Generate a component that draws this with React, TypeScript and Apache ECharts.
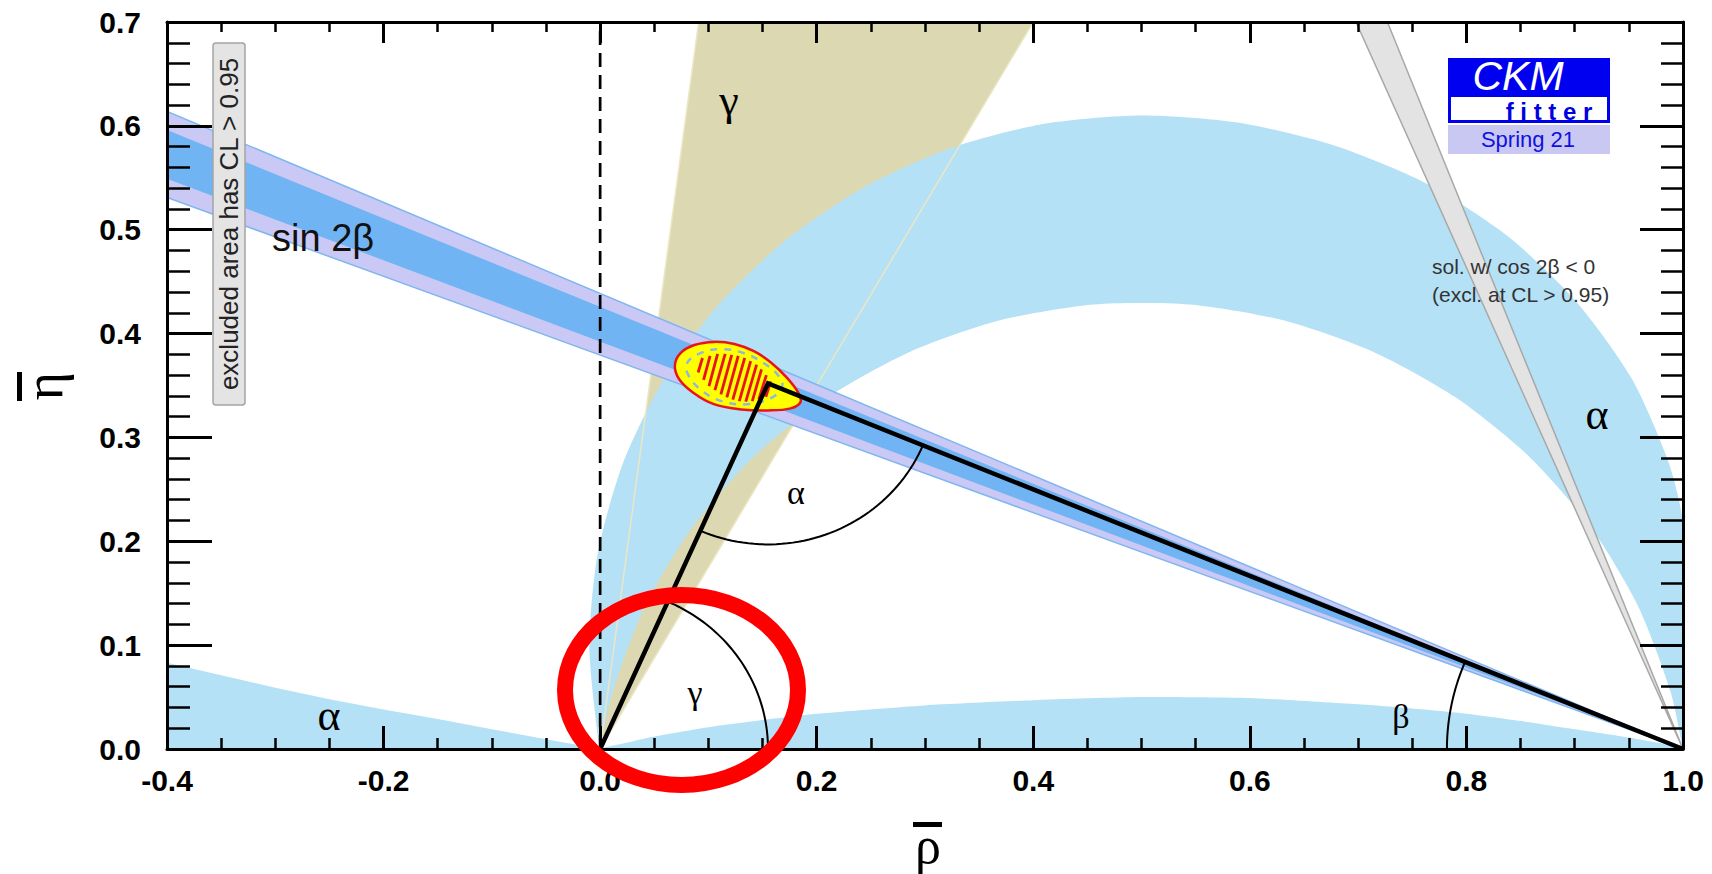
import React, { useEffect, useRef } from "react";
import * as echarts from "echarts";

// ---------------- data, in (rho-bar, eta-bar) ----------------
const triangle: number[][] = [[0, 0], [0.155, 0.352], [1, 0]];
const zeroLine: number[][] = [[0, 0], [0, 0.7]];

const gammaWedge: number[][] = [[0, 0], [0.091, 0.7], [0.4, 0.7]];
const gammaEdgeLeft: number[][] = [[0, 0], [0.091, 0.7]];
const gammaEdgeRight: number[][] = [[0, 0], [0.4, 0.7]];

const alphaOuterArc: number[][] = [
  [0, 0], [-0.0022, 0.0115], [-0.01, 0.1], [-0.0022, 0.1885], [0.0208, 0.2744], [0.0583, 0.355],
  [0.1093, 0.4278], [0.1722, 0.4907], [0.245, 0.5417], [0.3256, 0.5792], [0.4115, 0.6022],
  [0.5, 0.61], [0.59, 0.603], [0.678, 0.581], [0.762, 0.545], [0.838, 0.494], [0.902, 0.43],
  [0.953, 0.356], [0.987, 0.275], [1.0, 0.215], [1.0, 0],
];
const alphaInnerArc: number[][] = [
  [1, 0], [0.9885, 0.0552], [0.9583, 0.138], [0.9143, 0.2144], [0.8576, 0.2819], [0.79, 0.3386],
  [0.7137, 0.3826], [0.6309, 0.4128], [0.5441, 0.4281], [0.4559, 0.4281], [0.3691, 0.4128],
  [0.2863, 0.3826], [0.21, 0.3386], [0.1424, 0.2819], [0.0857, 0.2144], [0.0417, 0.138],
  [0.0115, 0.0552], [0, 0],
];
const alphaLowLeft: number[][] = [
  [-0.4, 0], [-0.4, 0.083], [-0.35, 0.071], [-0.3, 0.059], [-0.25, 0.048], [-0.2, 0.038],
  [-0.15, 0.029], [-0.1, 0.019], [-0.05, 0.0095], [0, 0],
];
const alphaLowMid: number[][] = [
  [0, 0], [0.02, 0.005], [0.05, 0.012], [0.1, 0.021], [0.15, 0.028], [0.2, 0.034], [0.3, 0.042],
  [0.4, 0.047], [0.5, 0.05], [0.6, 0.049], [0.7, 0.043], [0.75, 0.039], [0.8, 0.034],
  [0.85, 0.027], [0.9, 0.019], [0.95, 0.011], [1, 0],
];

const sin2bOuter: number[][] = [[-0.4, 0.614], [1, 0], [-0.4, 0.531]];
const sin2bInner: number[][] = [[-0.4, 0.596], [1, 0], [-0.4, 0.549]];
const cos2bNeg: number[][] = [[1, 0], [0.698, 0.7], [0.727, 0.7]];

const ellipse95: number[][] = [
  [0.069, 0.369], [0.074, 0.381], [0.087, 0.389], [0.105, 0.392], [0.124, 0.39], [0.142, 0.383],
  [0.158, 0.372], [0.172, 0.358], [0.183, 0.343], [0.185, 0.334], [0.176, 0.328], [0.155, 0.326],
  [0.13, 0.327], [0.105, 0.332], [0.086, 0.343], [0.073, 0.356],
];
const ellipse68: number[][] = [
  [0.08, 0.371], [0.092, 0.381], [0.112, 0.385], [0.133, 0.381], [0.152, 0.371], [0.165, 0.359],
  [0.168, 0.349], [0.158, 0.338], [0.136, 0.332], [0.112, 0.335], [0.094, 0.345], [0.082, 0.359],
];
// hatch strokes: [rho_bottom, eta_bottom, rho_top, eta_top]
const hatch68: number[][] = [
  [0.0905, 0.3625, 0.0945, 0.3765], [0.0955, 0.3555, 0.1015, 0.3785], [0.1005, 0.3495, 0.1085, 0.3805],
  [0.106, 0.3455, 0.1155, 0.3805], [0.1115, 0.3415, 0.1215, 0.3795], [0.117, 0.3385, 0.1275, 0.3785],
  [0.1225, 0.3365, 0.1335, 0.3765], [0.1285, 0.3350, 0.1390, 0.3735], [0.1345, 0.3345, 0.1445, 0.3700],
  [0.1405, 0.3350, 0.1490, 0.3655], [0.1465, 0.3365, 0.1535, 0.3600], [0.1530, 0.3390, 0.1575, 0.3540],
];
// angle markers: [vertex rho, vertex eta, radius, from deg, to deg]
const angleArcs: number[][] = [
  [0, 0, 0.155, 0, 66.24],
  [0.155, 0.352, 0.155, 246.24, 337.39],
  [1, 0, 0.218, 157.39, 180],
];

const LIGHT_BLUE = "#b4e1f5";

function polygonSeries(pts: number[][], style: any, z: number, smooth = 0) {
  return {
    type: "custom",
    coordinateSystem: "cartesian2d",
    clip: true,
    silent: true,
    z,
    data: [pts[0]],
    renderItem: (_p: any, api: any) => ({
      type: "polygon",
      shape: { points: pts.map((p) => api.coord(p)), smooth },
      style,
    }),
  };
}

function polylineSeries(lines: number[][][], style: any, z: number) {
  return {
    type: "custom",
    coordinateSystem: "cartesian2d",
    clip: true,
    silent: true,
    z,
    data: [lines[0][0]],
    renderItem: (_p: any, api: any) => ({
      type: "group",
      children: lines.map((l) => ({
        type: "polyline",
        shape: { points: l.map((p) => api.coord(p)) },
        style: { fill: "none", ...style },
      })),
    }),
  };
}

const axisCommon = {
  type: "value",
  z: 50,
  axisLine: { show: true, onZero: false, lineStyle: { color: "#000", width: 3 } },
  splitLine: { show: false },
};

export default function App() {
  const ref = useRef<HTMLDivElement>(null);
  useEffect(() => {
    if (!ref.current) return;
    const chart = echarts.init(ref.current, null, { renderer: "svg" });
    const fmt = (v: number) => v.toFixed(1);
    const tickLabel = {
      formatter: fmt,
      fontSize: 30,
      fontWeight: "bold",
      fontFamily: "Liberation Sans",
      color: "#000",
    };
    const serif = "Liberation Serif";
    const text = (x: number, y: number, t: string, size: number, extra: any = {}) => ({
      type: "text",
      x,
      y,
      z: 100,
      silent: true,
      style: {
        text: t,
        fontSize: size,
        fontFamily: serif,
        fill: "#000",
        align: "center",
        verticalAlign: "middle",
        ...extra,
      },
    });

    chart.setOption({
      animation: false,
      backgroundColor: "#fff",
      grid: { left: 167, top: 22, width: 1516, height: 727, containLabel: false },
      xAxis: [
        {
          ...axisCommon,
          position: "bottom",
          min: -0.4,
          max: 1.0,
          interval: 0.2,
          axisTick: { inside: true, length: 23, lineStyle: { color: "#000", width: 3 } },
          minorTick: { show: true, splitNumber: 4, length: 11, lineStyle: { color: "#000", width: 2.5 } },
          axisLabel: { ...tickLabel, margin: 16 },
        },
        {
          ...axisCommon,
          position: "top",
          min: -0.4,
          max: 1.0,
          interval: 0.2,
          axisTick: { inside: true, length: 21, lineStyle: { color: "#000", width: 3 } },
          minorTick: { show: true, splitNumber: 4, length: 10, lineStyle: { color: "#000", width: 2.5 } },
          axisLabel: { show: false },
        },
      ],
      yAxis: [
        {
          ...axisCommon,
          position: "left",
          min: 0,
          max: 0.7,
          interval: 0.1,
          axisTick: { inside: true, length: 45, lineStyle: { color: "#000", width: 3 } },
          minorTick: { show: true, splitNumber: 5, length: 23, lineStyle: { color: "#000", width: 2.5 } },
          axisLabel: { ...tickLabel, margin: 26 },
        },
        {
          ...axisCommon,
          position: "right",
          min: 0,
          max: 0.7,
          interval: 0.1,
          axisTick: { inside: true, length: 43, lineStyle: { color: "#000", width: 3 } },
          minorTick: { show: true, splitNumber: 5, length: 22, lineStyle: { color: "#000", width: 2.5 } },
          axisLabel: { show: false },
        },
      ],
      series: [
        polygonSeries(gammaWedge, { fill: "#dcd8b2" }, 1),
        polygonSeries(alphaLowLeft, { fill: LIGHT_BLUE }, 2),
        polygonSeries(alphaLowMid, { fill: LIGHT_BLUE }, 2, 0.2),
        polygonSeries([...alphaOuterArc, ...alphaInnerArc], { fill: LIGHT_BLUE }, 2, 0.25),
        polylineSeries([gammaEdgeLeft, gammaEdgeRight], { stroke: "#ebe6c4", lineWidth: 1.5 }, 3),
        polygonSeries(sin2bOuter, { fill: "#cac9f6", stroke: "#7fb6f0", lineWidth: 1.5 }, 4),
        polygonSeries(sin2bInner, { fill: "#70b4f4" }, 5),
        polygonSeries(cos2bNeg, { fill: "#e3e3e3", stroke: "#a8a8a8", lineWidth: 1.5 }, 5),
        {
          type: "line",
          data: zeroLine,
          symbol: "none",
          silent: true,
          z: 6,
          lineStyle: { color: "#000", width: 2.7, type: [14, 8] },
        },
        polygonSeries(ellipse95, { fill: "#ffff00", stroke: "#e8141c", lineWidth: 2.5 }, 7, 0.4),
        polygonSeries(ellipse68, { fill: "none", stroke: "#90b8da", lineWidth: 2.5, lineDash: [7, 7] }, 8, 0.4),
        {
          type: "custom",
          coordinateSystem: "cartesian2d",
          silent: true,
          z: 8,
          data: hatch68,
          renderItem: (_p: any, api: any) => {
            const a = api.coord([api.value(0), api.value(1)]);
            const b = api.coord([api.value(2), api.value(3)]);
            return {
              type: "line",
              shape: { x1: a[0], y1: a[1], x2: b[0], y2: b[1] },
              style: { stroke: "#e8141c", lineWidth: 2.8 },
            };
          },
        },
        {
          type: "custom",
          coordinateSystem: "cartesian2d",
          silent: true,
          z: 9,
          data: angleArcs,
          renderItem: (_p: any, api: any) => {
            const cx = api.value(0), cy = api.value(1), r = api.value(2);
            const a0 = api.value(3), a1 = api.value(4);
            const pts: number[][] = [];
            const n = 48;
            for (let i = 0; i <= n; i++) {
              const a = ((a0 + ((a1 - a0) * i) / n) * Math.PI) / 180;
              pts.push(api.coord([cx + r * Math.cos(a), cy + r * Math.sin(a)]));
            }
            return { type: "polyline", shape: { points: pts }, style: { fill: "none", stroke: "#000", lineWidth: 2 } };
          },
        },
        {
          type: "line",
          data: triangle,
          symbol: "none",
          silent: true,
          z: 10,
          lineStyle: { color: "#000", width: 4.5, join: "miter" },
        },
      ],
      graphic: [
        // Greek region labels
        text(729, 100, "γ", 44),
        text(1597, 414, "α", 44),
        text(329, 715, "α", 44),
        text(695, 692, "γ", 34),
        text(796, 492, "α", 34),
        text(1401, 716, "β", 34),
        {
          type: "text",
          x: 272,
          y: 238,
          z: 100,
          silent: true,
          style: {
            text: "sin 2β",
            fontSize: 38,
            fontFamily: "Liberation Sans",
            fill: "#111",
            align: "left",
            verticalAlign: "middle",
          },
        },
        // excluded-area box
        {
          type: "rect",
          z: 100,
          silent: true,
          shape: { x: 213, y: 43, width: 32, height: 362, r: 3 },
          style: { fill: "#e4e4e4", stroke: "#a4a4a4", lineWidth: 1.5 },
        },
        {
          type: "text",
          x: 229,
          y: 224,
          rotation: Math.PI / 2,
          z: 101,
          silent: true,
          style: {
            text: "excluded area has CL > 0.95",
            fontSize: 26,
            fontFamily: "Liberation Sans",
            fill: "#222",
            align: "center",
            verticalAlign: "middle",
          },
        },
        // cos 2beta note
        {
          type: "text",
          x: 1432,
          y: 266,
          z: 100,
          silent: true,
          style: { text: "sol. w/ cos 2β < 0", fontSize: 21, fontFamily: "Liberation Sans", fill: "#333", align: "left", verticalAlign: "middle" },
        },
        {
          type: "text",
          x: 1432,
          y: 294,
          z: 100,
          silent: true,
          style: { text: "(excl. at CL > 0.95)", fontSize: 21, fontFamily: "Liberation Sans", fill: "#333", align: "left", verticalAlign: "middle" },
        },
        // CKMfitter logo
        {
          type: "rect",
          z: 100,
          silent: true,
          shape: { x: 1449.5, y: 59.5, width: 159, height: 62 },
          style: { fill: "#fff", stroke: "#0000f0", lineWidth: 3 },
        },
        {
          type: "rect",
          z: 100,
          silent: true,
          shape: { x: 1448, y: 58, width: 162, height: 39 },
          style: { fill: "#0000f0" },
        },
        {
          type: "text",
          x: 1518,
          y: 76,
          z: 101,
          silent: true,
          style: { text: "CKM", fontSize: 41, lineHeight: 36, fontStyle: "italic", fontFamily: "Liberation Sans", fill: "#fff", align: "center", verticalAlign: "middle" },
        },
        {
          type: "text",
          x: 1549,
          y: 111,
          z: 101,
          silent: true,
          style: { text: "f i t t e r", fontSize: 24, lineHeight: 20, fontWeight: "bold", fontFamily: "Liberation Sans", fill: "#0000e0", align: "center", verticalAlign: "middle" },
        },
        {
          type: "rect",
          z: 100,
          silent: true,
          shape: { x: 1448, y: 125, width: 162, height: 29 },
          style: { fill: "#c8c8f2" },
        },
        {
          type: "text",
          x: 1528,
          y: 139,
          z: 101,
          silent: true,
          style: { text: "Spring 21", fontSize: 22, fontFamily: "Liberation Sans", fill: "#1010e0", align: "center", verticalAlign: "middle" },
        },
        // axis titles
        {
          type: "text",
          x: 44,
          y: 386,
          rotation: Math.PI / 2,
          z: 100,
          silent: true,
          style: { text: "η", fontSize: 54, fontFamily: serif, fill: "#000", align: "center", verticalAlign: "middle" },
        },
        {
          type: "rect",
          z: 100,
          silent: true,
          shape: { x: 17, y: 372, width: 5, height: 29 },
          style: { fill: "#000" },
        },
        {
          type: "text",
          x: 928,
          y: 845,
          z: 100,
          silent: true,
          style: { text: "ρ", fontSize: 52, lineHeight: 50, fontFamily: serif, fill: "#000", align: "center", verticalAlign: "middle" },
        },
        {
          type: "rect",
          z: 100,
          silent: true,
          shape: { x: 913, y: 822, width: 29, height: 5 },
          style: { fill: "#000" },
        },
        // red highlight ring around the gamma angle
        {
          type: "ellipse",
          z: 120,
          silent: true,
          shape: { cx: 681.5, cy: 690, rx: 116.5, ry: 95 },
          style: { fill: "none", stroke: "#ff0000", lineWidth: 16 },
        },
      ],
    });
    return () => chart.dispose();
  }, []);
  return (
    <div
      ref={ref}
      style={{ position: "fixed", left: 0, top: 0, width: "1712px", height: "874px", background: "#fff" }}
    />
  );
}
